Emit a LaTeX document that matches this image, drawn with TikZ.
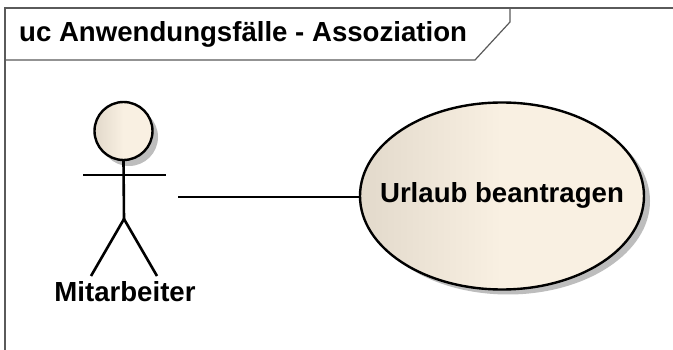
\documentclass[tikz,border=0pt]{standalone}
\usepackage{fontspec}
\setmainfont{Liberation Sans}
\usetikzlibrary{shapes.geometric}
\definecolor{fillR}{HTML}{F9F0E2}
\definecolor{fillL}{HTML}{E2D9CB}
\definecolor{shade}{HTML}{BDBDBD}
\definecolor{framec}{HTML}{5A5A5A}
\pgfdeclarehorizontalshading{ucfill}{100bp}{color(0bp)=(fillL); color(25bp)=(fillL); color(50bp)=(fillR); color(100bp)=(fillR)}
\tikzset{
  x=1pt,y=-1pt,
  frameline/.style={draw=framec,line width=1.2pt},
  stick/.style={draw=black,line width=2.6pt},
  label/.style={font=\bfseries\fontsize{27.6}{32}\selectfont,inner sep=0pt,text=black},
  shadowshape/.style={fill=shade,draw=none},
}
\begin{document}
\begin{tikzpicture}
\useasboundingbox (0,0) rectangle (673,350);
\fill[white] (0,0) rectangle (673,350);
% frame
\draw[frameline] (673,8) -- (5,8) -- (5,350);
\draw[frameline] (5,60) -- (475,60) -- (510,22) -- (510,8);
\node[label,anchor=base west] (title) at (19,41.5) {uc Anwendungsfälle - Assoziation};
% actor
\fill[shadowshape] (129,137) circle (29);
\node[circle,minimum size=58pt,inner sep=0pt,shading=ucfill,draw=black,line width=2.4pt] (head) at (123.5,131) {};
\coordinate (hip) at (124,219);
\coordinate (armL) at (83,175);
\coordinate (armR) at (166,175);
\coordinate (footL) at (91,276);
\coordinate (footR) at (157,276);
\draw[stick] (head.south) -- (hip);
\draw[stick] (armL) -- (armR);
\draw[stick] (footL) -- (hip) -- (footR);
\node[label,anchor=base] (actor) at (125,301.5) {Mitarbeiter};
% use case
\fill[shadowshape] (508,201) ellipse [x radius=142,y radius=93.5];
\node[ellipse,minimum width=284pt,minimum height=187pt,inner sep=0pt,shading=ucfill,draw=black,line width=2.4pt] (uc) at (502,196) {};
\node[label,anchor=base] (uclabel) at (502,203) {Urlaub beantragen};
\coordinate (assocStart) at (178,197);
\draw[stick] (assocStart) -- (uc.west |- assocStart);
\end{tikzpicture}
\end{document}
